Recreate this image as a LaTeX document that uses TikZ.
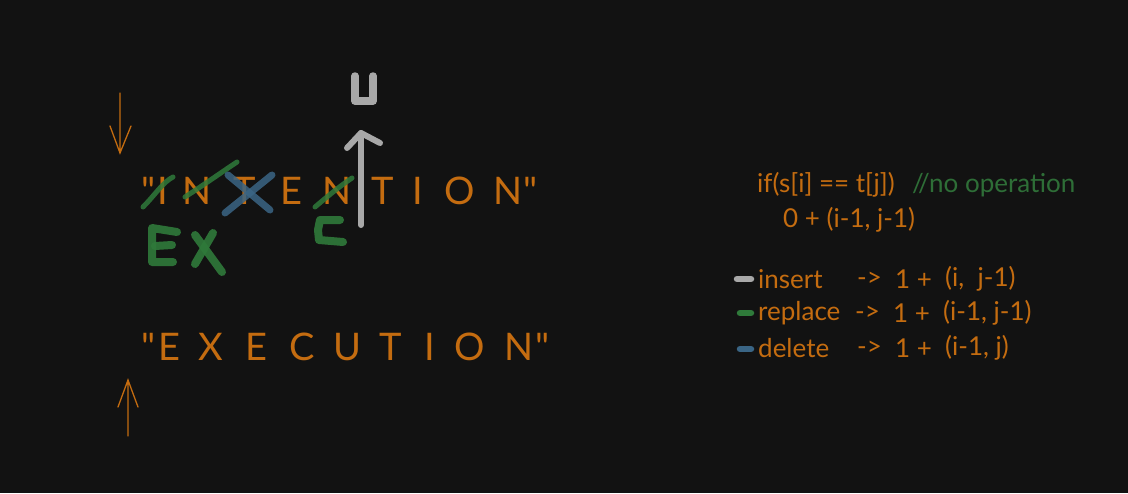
\documentclass[tikz,border=0pt]{standalone}
\usepackage{fontspec}
\newfontfamily\lato{Lato}
\definecolor{bg}{HTML}{121212}
\definecolor{ora}{HTML}{C46C10}
\definecolor{grn}{HTML}{2F7A3A}
\definecolor{grntxt}{HTML}{2E6E37}
\definecolor{blu}{HTML}{3A6585}
\definecolor{gry}{HTML}{A8A8A8}
\begin{document}
\begin{tikzpicture}[x=1pt,y=-1pt,
  big/.style={text=ora,font=\lato\fontsize{38}{38}\selectfont,inner sep=0pt,anchor=center},
  code/.style={text=ora,font=\lato\fontsize{26}{26}\selectfont,inner sep=0pt,anchor=west},
  thin/.style={draw=ora,line width=1.3pt,line cap=round},
  gstroke/.style={draw=grn,line width=5pt,line cap=round,line join=round,opacity=0.85},
  gthick/.style={draw=grn,line width=8pt,line cap=round,line join=round,opacity=0.9},
  bstroke/.style={draw=blu,line width=7pt,line cap=round,opacity=0.85},
  gystroke/.style={draw=gry,line width=6pt,line cap=round,line join=round},
  pill/.style={line width=6.5pt,line cap=round}]
\fill[bg] (0,0) rectangle (1128,493);
\useasboundingbox (0,0) rectangle (1128,493);
% INTENTION
\node[big] (q1) at (149,191) {"};
\node[big] (i1) at (163,191) {I};
\node[big] (i2) at (197,191) {N};
\node[big] (i3) at (245,191) {T};
\node[big] (i4) at (291,191) {E};
\node[big] (i5) at (337,191) {N};
\node[big] (i6) at (383,191) {T};
\node[big] (i7) at (418,191) {I};
\node[big] (i8) at (460,191) {O};
\node[big] (i9) at (508,191) {N};
\node[big] (q2) at (531,191) {"};
% EXECUTION
\node[big] (q3) at (149,347) {"};
\node[big] (e1) at (169,347) {E};
\node[big] (e2) at (211,347) {X};
\node[big] (e3) at (256,347) {E};
\node[big] (e4) at (302,347) {C};
\node[big] (e5) at (347,347) {U};
\node[big] (e6) at (391,347) {T};
\node[big] (e7) at (430,347) {I};
\node[big] (e8) at (470,347) {O};
\node[big] (e9) at (519,347) {N};
\node[big] (q4) at (543,347) {"};
% orange arrows
\coordinate (da1) at (120,93);
\coordinate (da2) at (120,153);
\draw[thin] (da1) -- (da2) (110,126) -- (da2) -- (131,126);
\coordinate (ua1) at (128,436);
\coordinate (ua2) at (128,380);
\draw[thin] (ua1) -- (ua2) (118,407) -- (ua2) -- (138,407);
% strike marks
\draw[gstroke] (143,207) .. controls (155,195) and (163,182) .. (173,177);
\draw[gstroke] (185,197) .. controls (205,184) and (222,172) .. (237,162);
\draw[bstroke] (225,213) -- (272,175);
\draw[bstroke] (228,175) -- (270,210);
\draw[gstroke] (315,207) .. controls (328,196) and (340,186) .. (352,178);
% green C
\draw[gthick] (340,220) -- (320,220) -- (318,230) -- (319,240) -- (343,242);
% green E
\draw[gthick] (177,232) -- (152,228) -- (152,262) -- (173,262);
\draw[gthick] (155,246) -- (172,245);
% green X
\draw[gthick] (195,264) -- (213,233);
\draw[gthick] (195,235) -- (222,272);
% gray insert arrow
\coordinate (ga1) at (361,225);
\coordinate (ga2) at (361,133);
\draw[gystroke] (ga1) -- (ga2);
\draw[gystroke] (347,148) -- (ga2) -- (380,143);
% gray U
\draw[gystroke,line width=7.5pt] (355,76) -- (355,101) -- (373,101) -- (373,76);
% right side text
\node[code] (c1) at (757,185) {if(s[i] == t[j])};
\node[code,text=grntxt] (c2) at (912,185) {//no operation};
\node[code] (c3) at (783,220) {0 + (i-1, j-1)};
\node[code] (r1a) at (758,279) {insert};
\node[code] (r1b) at (857,279) {->};
\node[code] (r1c) at (895,279) {1 +};
\node[code] (r1d) at (945,279) {(i,\ \ j-1)};
\node[code] (r2a) at (758,313) {replace};
\node[code] (r2b) at (855,313) {->};
\node[code] (r2c) at (893,313) {1 +};
\node[code] (r2d) at (943,313) {(i-1, j-1)};
\node[code] (r3a) at (758,348) {delete};
\node[code] (r3b) at (857,348) {->};
\node[code] (r3c) at (895,348) {1 +};
\node[code] (r3d) at (945,348) {(i-1, j)};
% legend pills
\draw[pill,draw=gry] (737,279) -- (751,279);
\draw[pill,draw=grn] (740,313) -- (751,313);
\draw[pill,draw=blu] (740,349) -- (751,349);
\end{tikzpicture}
\end{document}
